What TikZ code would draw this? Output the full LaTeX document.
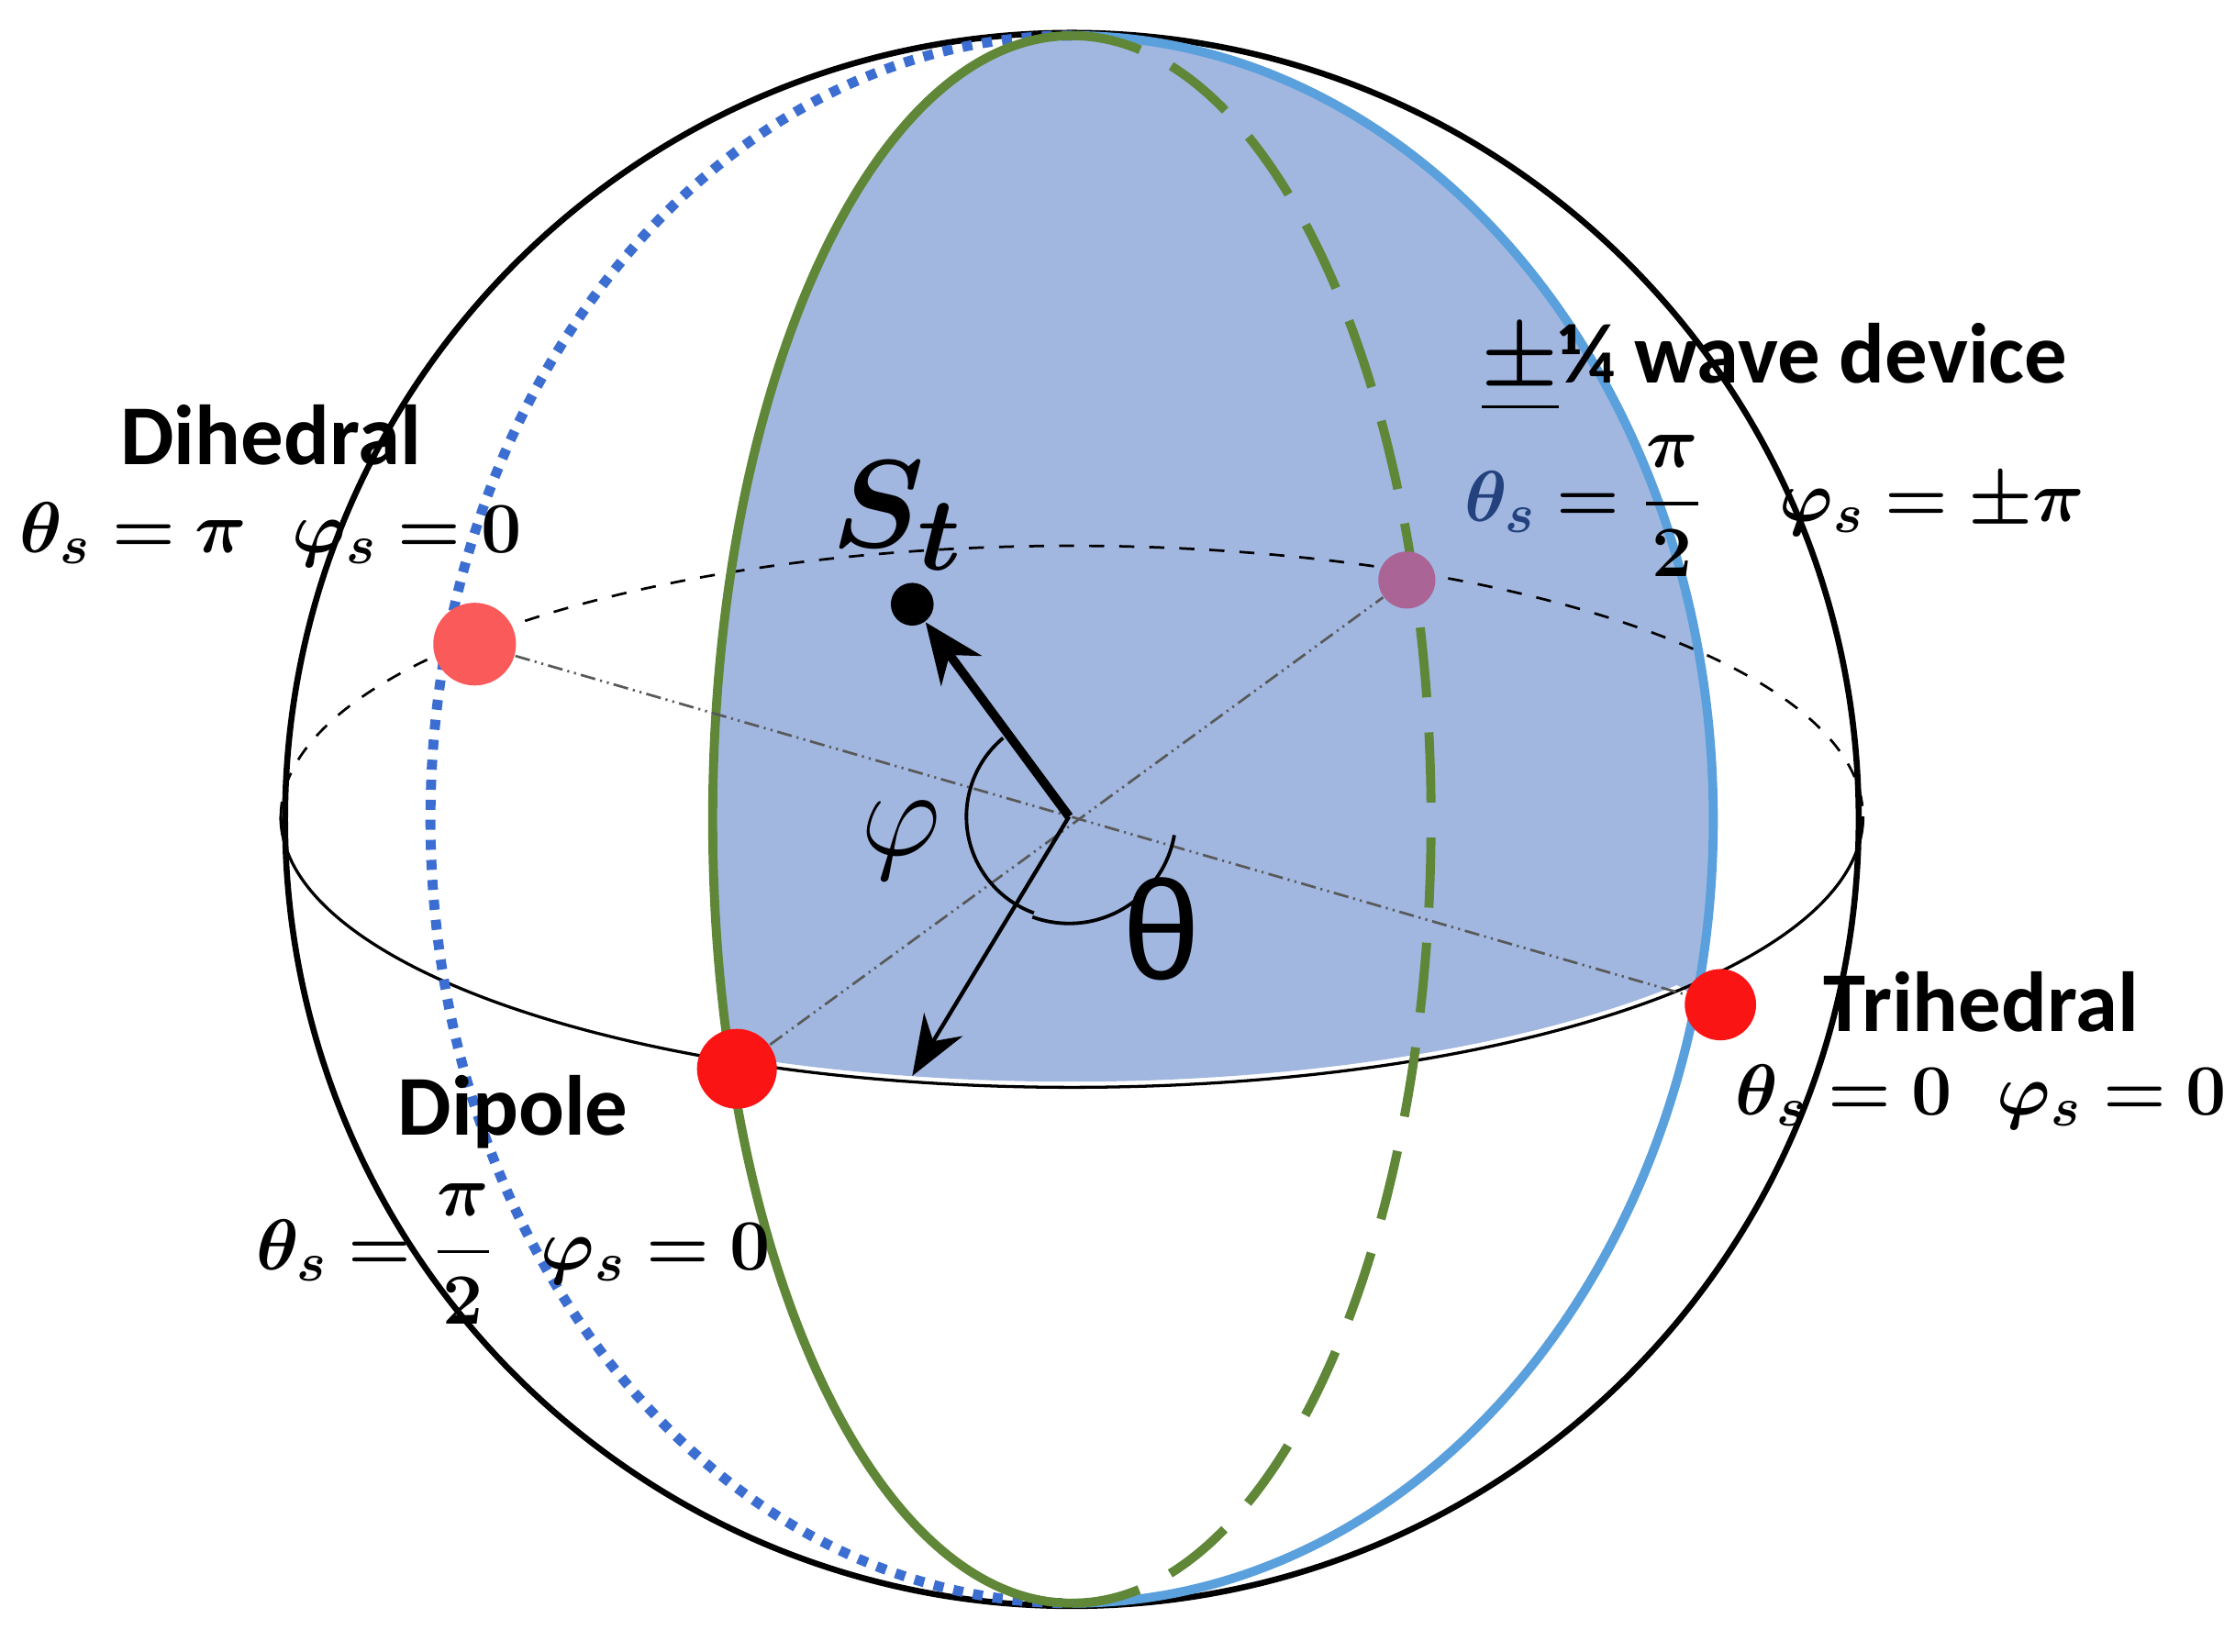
\documentclass[tikz,border=0pt]{standalone}
\usepackage{amsmath,bm}
\usepackage{fontspec}
\newfontfamily\lab{Carlito}
\newfontfamily\thf{Liberation Sans}
\usetikzlibrary{arrows.meta}
\definecolor{fillb}{RGB}{161,183,224}
\definecolor{lblue}{RGB}{90,160,220}
\definecolor{dblue}{RGB}{60,110,210}
\definecolor{grn}{RGB}{95,135,55}
\definecolor{rd}{RGB}{250,20,20}
\definecolor{pink}{RGB}{250,90,90}
\definecolor{purp}{RGB}{170,100,150}
\begin{document}
\begin{tikzpicture}[x=0.01cm,y=-0.01cm,
  lbl/.style={font=\lab\bfseries\fontsize{17}{20}\selectfont},
  mth/.style={font=\fontsize{15}{18}\selectfont},
  dd/.style={densely dash dot dot, line width=0.5pt, gray!70!black}]
\useasboundingbox (0,0) rectangle (1568,1159);
% fill region
\fill[fillb] (752,25) arc[x radius=252,y radius=550,start angle=-90,end angle=-197.5]
  arc[x radius=555,y radius=190,start angle=115.6,end angle=40]
  -- (1190,700) arc[x radius=450,y radius=550,start angle=13.1,end angle=-90] -- cycle;
\coordinate (c) at (750,573);
% sphere
\draw[line width=1.2pt] (752,575) circle[radius=552];
% equator
\draw[dashed,line width=0.5pt] (197,573) arc[x radius=555,y radius=190,start angle=-180,end angle=0];
\draw[line width=0.6pt] (197,573) arc[x radius=555,y radius=190,start angle=180,end angle=0];
% meridians
\draw[dblue,line width=2pt,dotted] (752,25) arc[x radius=450,y radius=550,start angle=-90,end angle=-270];
\draw[lblue,line width=1.8pt] (752,25) arc[x radius=450,y radius=550,start angle=-90,end angle=90];
\draw[grn,line width=1.8pt] (752,25) arc[x radius=252,y radius=550,start angle=-90,end angle=-270];
\draw[grn,line width=1.8pt,dash pattern=on 14pt off 7pt] (752,25) arc[x radius=252,y radius=550,start angle=-90,end angle=90];
% points
\node[circle,fill=pink,inner sep=0,minimum size=0.58cm] (dih) at (333,452) {};
\node[circle,fill=rd,inner sep=0,minimum size=0.56cm] (dip) at (517,750) {};
\node[circle,fill=rd,inner sep=0,minimum size=0.5cm] (tri) at (1207,705) {};
\node[circle,fill=purp,inner sep=0,minimum size=0.4cm] (qw) at (987,407) {};
\draw[dd] (dih) -- (tri);
\draw[dd] (dip) -- (qw);
% vectors
\node[circle,fill=black,inner sep=0,minimum size=0.3cm] (st) at (640,424) {};
\draw[line width=1.8pt,-{Stealth[length=12pt,width=10pt]}] (c) -- (st);
\coordinate (eq) at (640,755);
\draw[line width=0.8pt,-{Stealth[length=12pt,width=9pt]}] (c) -- (eq);
\draw[line width=0.7pt] (c) ++(-130:72) arc[radius=72,start angle=-130,end angle=-250];
\draw[line width=0.7pt] (c) ++(-250:75) arc[radius=75,start angle=-250,end angle=-350];
\node[font=\fontsize{30}{34}\selectfont] (phi) at (632,590) {$\varphi$};
\node[font=\thf\fontsize{28}{34}\selectfont] (th) at (815,652) {θ};
\node[font=\fontsize{32}{38}\selectfont] (stl) at (630,362) {$\bm{S_t}$};
% labels
\node[lbl] (l1) at (190,305) {Dihedral};
\node[mth] (m1) at (190,375) {$\bm{\theta_s=\pi\ \ \varphi_s=0}$};
\node[lbl] (l2) at (1245,258) {\underline{$\bm{\pm}$}¼ wave device};
\node[mth] (m2) at (1245,355) {$\bm{{\color{dblue!60!black}\theta_s}=\dfrac{\pi}{2}\quad\varphi_s=\pm\pi}$};
\node[lbl] (l3) at (1390,703) {Trihedral};
\node[mth] (m3) at (1390,770) {$\bm{\theta_s=0\ \ \varphi_s=0}$};
\node[lbl] (l4) at (360,780) {Dipole};
\node[mth] (m4) at (360,880) {$\bm{\theta_s=\dfrac{\pi}{2}\ \ \varphi_s=0}$};
\end{tikzpicture}
\end{document}
